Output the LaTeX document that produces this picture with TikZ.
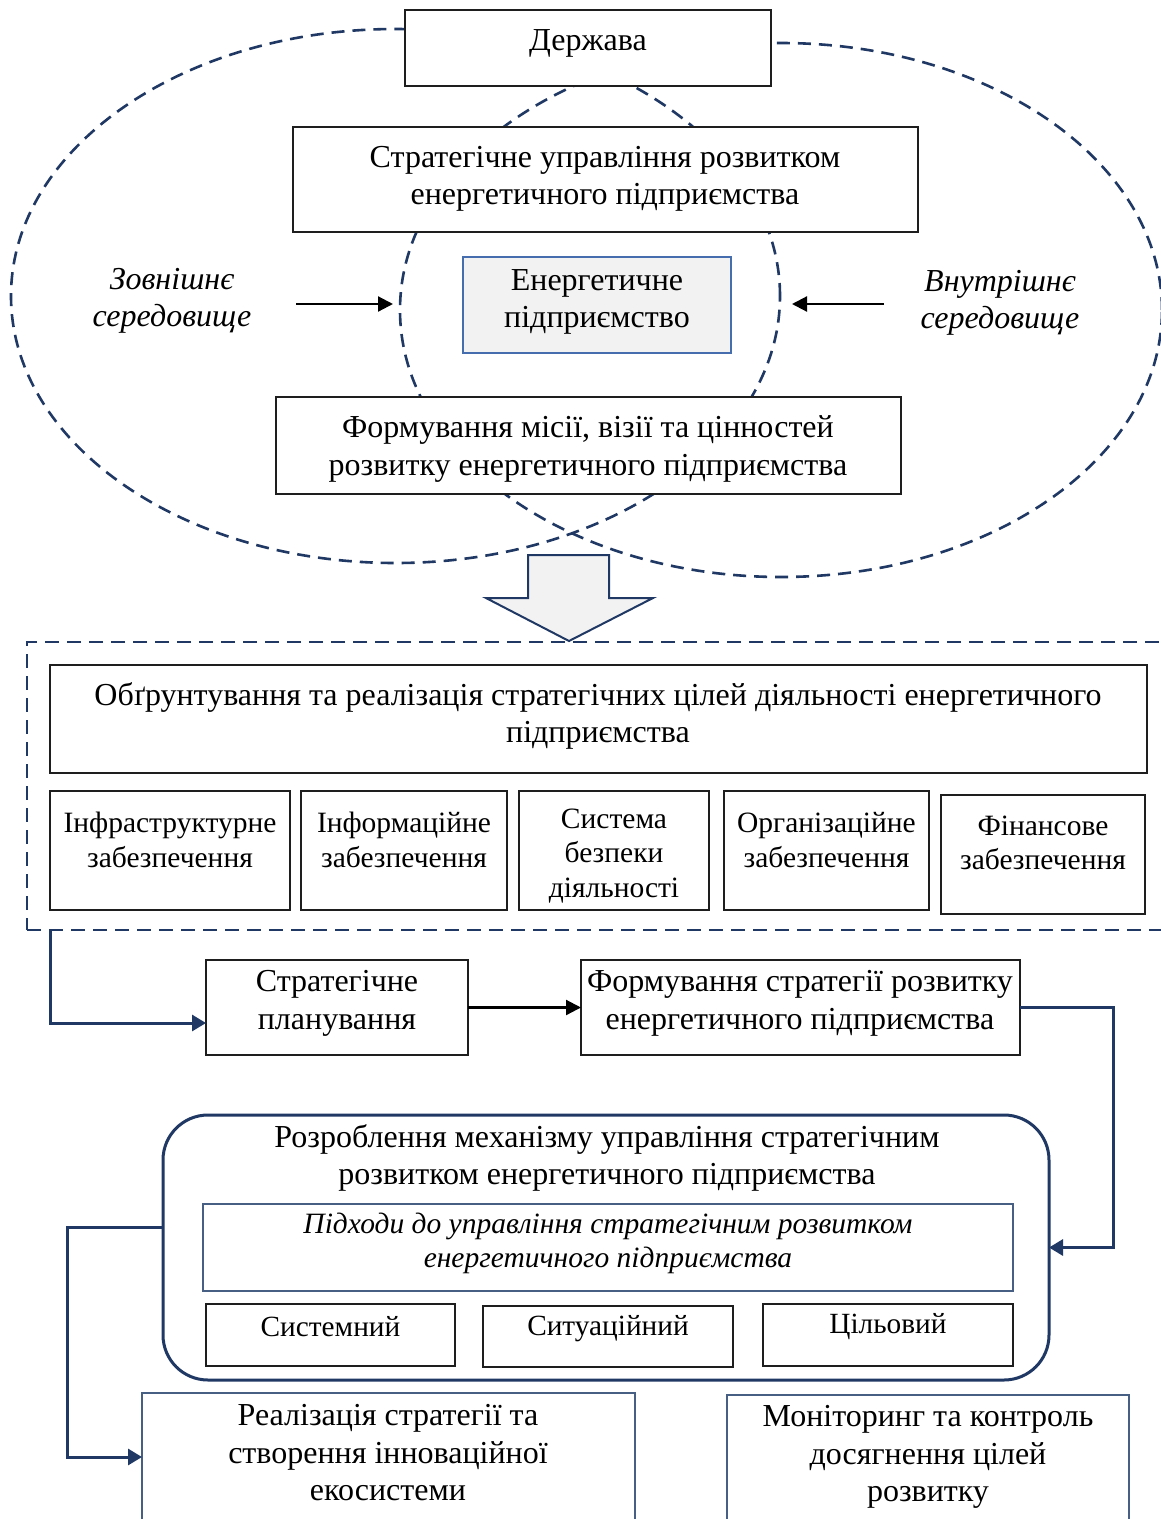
\documentclass[tikz,border=0pt]{standalone}
\usepackage{fontspec}
\setmainfont{Liberation Serif}
\usetikzlibrary{arrows.meta}
\definecolor{navy}{RGB}{31,56,100}
\definecolor{boxc}{RGB}{30,30,30}
\definecolor{thinb}{RGB}{70,95,130}
\definecolor{entb}{RGB}{70,110,175}
\definecolor{fillg}{RGB}{242,242,242}
\newcommand\fsA{\fontsize{32}{37.5}\selectfont}
\newcommand\fsB{\fontsize{29.5}{34.5}\selectfont}
\newcommand\fsC{\fontsize{29.3}{34}\selectfont}
\newcommand\fsI{\fontsize{29.5}{34}\selectfont\itshape}
\tikzset{
  ell/.style={draw=navy, line width=2.6pt, dash pattern=on 13pt off 8pt},
  bx/.style={draw=boxc, line width=1.6pt, fill=white, inner sep=0pt, outer sep=0pt},
  tbx/.style={draw=thinb, line width=1.5pt, fill=white, inner sep=0pt, outer sep=0pt},
  txt/.style={align=center, inner sep=0pt, font=\fsA},
  txtb/.style={align=center, inner sep=0pt, font=\fsB},
  barr/.style={draw=black, line width=2.2pt, -{Triangle[length=15pt,width=15pt]}},
  conn/.style={draw=navy, line width=3pt, -{Triangle[length=14pt,width=16pt]}},
}
\begin{document}
\begin{tikzpicture}[x=1pt,y=-1pt]
\useasboundingbox (0,0) rectangle (1161,1519);
\fill[white] (0,0) rectangle (1161,1519);
% environment ellipses
\draw[ell] (395.5,296) ellipse [x radius=384.5pt, y radius=267pt];
\draw[ell] (781,310) ellipse [x radius=381pt, y radius=267pt];
% top boxes
\node[bx, minimum width=366pt, minimum height=76pt] (derzh) at (588,48) {};
\node[txt] (tderzh) at (588,43) {Держава};
\node[bx, minimum width=625pt, minimum height=105pt] (sup) at (605.5,179.5) {};
\node[txt] (tsup) at (605,179) {Стратегічне управління розвитком\\енергетичного підприємства};
\node[bx, draw=entb, fill=fillg, minimum width=268pt, minimum height=96pt] (ent) at (597,305) {};
\node[txt] (tent) at (597,302) {Енергетичне\\підприємство};
\node[bx, minimum width=625pt, minimum height=97pt] (mis) at (588.5,445.5) {};
\node[txt] (tmis) at (588,449) {Формування місії, візії та цінностей\\розвитку енергетичного підприємства};
% environment labels and arrows
\node[txt, font=\fsA\itshape] (zov) at (172,301) {Зовнішнє\\середовище};
\node[txt, font=\fsA\itshape] (vnu) at (1000,303) {Внутрішнє\\середовище};
\coordinate (za1) at (296,304);
\coordinate (za2) at (393,304);
\coordinate (va1) at (884,304);
\coordinate (va2) at (792,304);
\draw[barr] (za1) -- (za2);
\draw[barr] (va1) -- (va2);
% block arrow
\draw[navy, line width=2pt, fill=fillg, line join=miter]
  (528,555) -- (609,555) -- (609,598) -- (653,598) -- (569,641) -- (486,598) -- (528,598) -- cycle;
% dashed frame
\node[draw=navy, line width=2.6pt, dash pattern=on 14pt off 8pt, inner sep=0pt, outer sep=0pt,
  minimum width=1148pt, minimum height=288pt] (frame) at (601,786) {};
\node[bx, minimum width=1097pt, minimum height=108pt] (obg) at (598.5,719) {};
\node[txt] (tobg) at (598,716) {Обґрунтування та реалізація стратегічних цілей діяльності енергетичного\\підприємства};
\node[bx, minimum width=240pt, minimum height=119pt] (b1) at (170,850.5) {};
\node[bx, minimum width=206pt, minimum height=119pt] (b2) at (404,850.5) {};
\node[bx, minimum width=190pt, minimum height=119pt] (b3) at (614,850.5) {};
\node[bx, minimum width=205pt, minimum height=119pt] (b4) at (826.5,850.5) {};
\node[bx, minimum width=204pt, minimum height=119pt] (b5) at (1043,854.5) {};
\node[txtb] (tb1) at (170,840) {Інфраструктурне\\забезпечення};
\node[txtb] (tb2) at (404,840) {Інформаційне\\забезпечення};
\node[txtb] (tb3) at (614,856) {Система\\безпеки\\діяльності};
\node[txtb] (tb4) at (826.5,840) {Організаційне\\забезпечення};
\node[txtb] (tb5) at (1043,843) {Фінансове\\забезпечення};
% planning row
\node[bx, minimum width=262pt, minimum height=95pt] (sp) at (337,1007.5) {};
\node[txt] (tsp) at (337,1003.5) {Стратегічне\\планування};
\node[bx, minimum width=439pt, minimum height=95pt] (fs) at (800.5,1007.5) {};
\node[txt] (tfs) at (800,1003.5) {Формування стратегії розвитку\\енергетичного підприємства};
% mechanism block
\node[draw=navy, line width=3pt, rounded corners=45pt, fill=white, inner sep=0pt, outer sep=0pt,
  minimum width=886pt, minimum height=265pt] (rb) at (606,1247.5) {};
\node[txt] (trb) at (607,1158) {Розроблення механізму управління стратегічним\\розвитком енергетичного підприємства};
\node[tbx, minimum width=810pt, minimum height=87pt] (pid) at (608,1247.5) {};
\node[txt, font=\fsI] (tpid) at (608,1243.5) {Підходи до управління стратегічним розвитком\\енергетичного підприємства};
\node[bx, minimum width=249pt, minimum height=62pt] (s1) at (330.5,1335) {};
\node[bx, minimum width=250pt, minimum height=61pt] (s2) at (608,1336.5) {};
\node[bx, minimum width=250pt, minimum height=62pt] (s3) at (888,1335) {};
\node[txt, font=\fsC] (ts1) at (330.5,1327) {Системний};
\node[txt, font=\fsC] (ts2) at (608,1329) {Ситуаційний};
\node[txt, font=\fsC] (ts3) at (888,1327) {Цільовий};
% bottom boxes
\node[tbx, minimum width=493pt, minimum height=128pt] (real) at (388.5,1457) {};
\node[txt] (treal) at (388,1453) {Реалізація стратегії та\\створення інноваційної\\екосистеми};
\node[tbx, minimum width=402pt, minimum height=126pt] (mon) at (928,1458) {};
\node[txt] (tmon) at (928,1457) {Моніторинг та контроль\\досягнення цілей\\розвитку};
% connectors
\draw[conn] ([xshift=23pt]frame.south west) |- ([yshift=-15.5pt]sp.west);
\draw[barr] (sp.east) -- (fs.west);
\draw[conn] (fs.east) -- ++(93,0) |- (rb.east);
\draw[conn] ([yshift=20.5pt]rb.west) -- ++(-96,0) |- (real.west);
\end{tikzpicture}
\end{document}
